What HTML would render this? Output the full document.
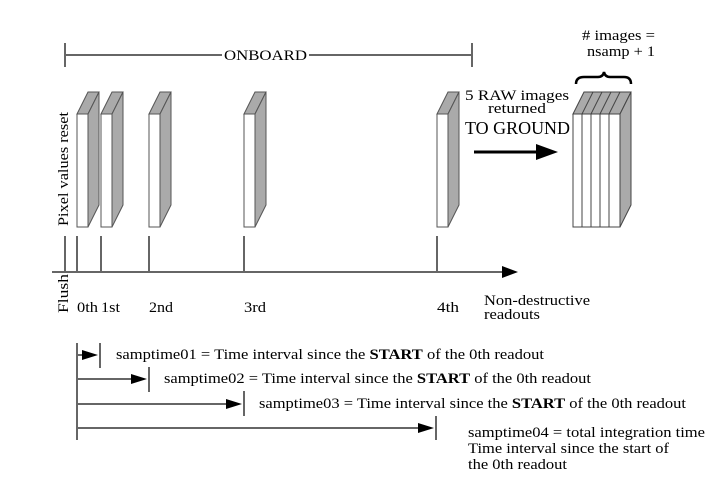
<!DOCTYPE html>
<html><head><meta charset="utf-8"><style>
html,body{margin:0;padding:0;background:#fff;}
svg{display:block;}
text{font-family:"Liberation Serif",serif;fill:#000;}
</style></head><body>
<svg width="725" height="492" viewBox="0 0 725 492" xmlns="http://www.w3.org/2000/svg">
<defs>
<g id="fr">
<polygon points="0,22 11,0 22,0 11,22" fill="#aaa" stroke="#555" stroke-width="1"/>
<polygon points="11,22 22,0 22,113 11,135" fill="#aaa" stroke="#555" stroke-width="1"/>
<rect x="0" y="22" width="11" height="113" fill="#fff" stroke="#555" stroke-width="1"/>
</g>
</defs>
<g stroke="#666" stroke-width="2" fill="none">
<line x1="65" y1="55" x2="222" y2="55"/>
<line x1="309" y1="55" x2="472" y2="55"/>
<line x1="65" y1="43" x2="65" y2="67"/>
<line x1="472" y1="43" x2="472" y2="67"/>
<line x1="52" y1="272" x2="505" y2="272"/>
<line x1="65" y1="236" x2="65" y2="272"/>
<line x1="77" y1="236" x2="77" y2="272"/>
<line x1="101" y1="236" x2="101" y2="272"/>
<line x1="149" y1="236" x2="149" y2="272"/>
<line x1="244" y1="236" x2="244" y2="272"/>
<line x1="437" y1="236" x2="437" y2="272"/>
</g>
<polygon points="502,266 518,272 502,278" fill="#000"/>
<text x="224" y="60" font-size="15" textLength="83" lengthAdjust="spacingAndGlyphs">ONBOARD</text>
<use href="#fr" x="77" y="92"/>
<use href="#fr" x="101" y="92"/>
<use href="#fr" x="149" y="92"/>
<use href="#fr" x="244" y="92"/>
<use href="#fr" x="437" y="92"/>
<g stroke="#444" stroke-width="1">
<polygon points="573,114 584,92 631,92 620,114" fill="#aaa"/>
<polygon points="620,114 631,92 631,205 620,227" fill="#aaa"/>
<rect x="573" y="114" width="47" height="113" fill="#fff"/>
<line x1="582" y1="114" x2="582" y2="227"/><line x1="591" y1="114" x2="591" y2="227"/>
<line x1="600" y1="114" x2="600" y2="227"/><line x1="609" y1="114" x2="609" y2="227"/>
<line x1="582" y1="114" x2="593" y2="92"/><line x1="591" y1="114" x2="602" y2="92"/>
<line x1="600" y1="114" x2="611" y2="92"/><line x1="609" y1="114" x2="620" y2="92"/>
</g>
<path d="M576,84 Q576,77 584,77 L598,77 Q603,77 604,72 Q605,77 610,77 L624,77 Q631,77 631,84" stroke="#000" stroke-width="2.5" fill="none"/>
<text x="582" y="40" font-size="15" textLength="73" lengthAdjust="spacingAndGlyphs"># images =</text>
<text x="587" y="56" font-size="15" textLength="68" lengthAdjust="spacingAndGlyphs">nsamp + 1</text>
<text x="465" y="100" font-size="15" textLength="104" lengthAdjust="spacingAndGlyphs">5 RAW images</text>
<text x="488" y="113" font-size="15" textLength="58" lengthAdjust="spacingAndGlyphs">returned</text>
<text x="465" y="134" font-size="18" textLength="105" lengthAdjust="spacingAndGlyphs">TO GROUND</text>
<line x1="474" y1="152" x2="540" y2="152" stroke="#000" stroke-width="3"/>
<polygon points="536,144 558,152 536,160" fill="#000"/>
<text transform="translate(68,226) rotate(-90)" font-size="15" textLength="114" lengthAdjust="spacingAndGlyphs">Pixel values reset</text>
<text transform="translate(68,313) rotate(-90)" font-size="15" textLength="39" lengthAdjust="spacingAndGlyphs">Flush</text>
<text x="77" y="312" font-size="15" textLength="21" lengthAdjust="spacingAndGlyphs">0th</text>
<text x="101" y="312" font-size="15" textLength="19" lengthAdjust="spacingAndGlyphs">1st</text>
<text x="149" y="312" font-size="15" textLength="24" lengthAdjust="spacingAndGlyphs">2nd</text>
<text x="244" y="312" font-size="15" textLength="22" lengthAdjust="spacingAndGlyphs">3rd</text>
<text x="437" y="312" font-size="15" textLength="22" lengthAdjust="spacingAndGlyphs">4th</text>
<text x="484" y="305" font-size="15" textLength="106" lengthAdjust="spacingAndGlyphs">Non-destructive</text>
<text x="484" y="319" font-size="15" textLength="56" lengthAdjust="spacingAndGlyphs">readouts</text>
<g stroke="#666" stroke-width="2">
<line x1="77" y1="343" x2="77" y2="440"/>
<line x1="77" y1="355" x2="86" y2="355"/><line x1="100" y1="343" x2="100" y2="368"/>
<line x1="77" y1="379" x2="134" y2="379"/><line x1="149" y1="367" x2="149" y2="392"/>
<line x1="77" y1="404" x2="229" y2="404"/><line x1="244" y1="391" x2="244" y2="416"/>
<line x1="77" y1="428" x2="421" y2="428"/><line x1="436" y1="416" x2="436" y2="440"/>
</g>
<g fill="#000">
<polygon points="82,350 98,355 82,360"/>
<polygon points="131,374 147,379 131,384"/>
<polygon points="226,399 242,404 226,409"/>
<polygon points="418,423 434,428 418,433"/>
</g>
<g font-size="15">
<text x="116" y="359" textLength="428" lengthAdjust="spacingAndGlyphs">samptime01 = Time interval since the <tspan font-weight="bold">START</tspan> of the 0th readout</text>
<text x="164" y="383" textLength="427" lengthAdjust="spacingAndGlyphs">samptime02 = Time interval since the <tspan font-weight="bold">START</tspan> of the 0th readout</text>
<text x="259" y="408" textLength="427" lengthAdjust="spacingAndGlyphs">samptime03 = Time interval since the <tspan font-weight="bold">START</tspan> of the 0th readout</text>
<text x="468" y="437" textLength="237" lengthAdjust="spacingAndGlyphs">samptime04 = total integration time</text>
<text x="468" y="453" textLength="201" lengthAdjust="spacingAndGlyphs">Time interval since the start of</text>
<text x="468" y="469" textLength="99" lengthAdjust="spacingAndGlyphs">the 0th readout</text>
</g>
</svg>
</body></html>
